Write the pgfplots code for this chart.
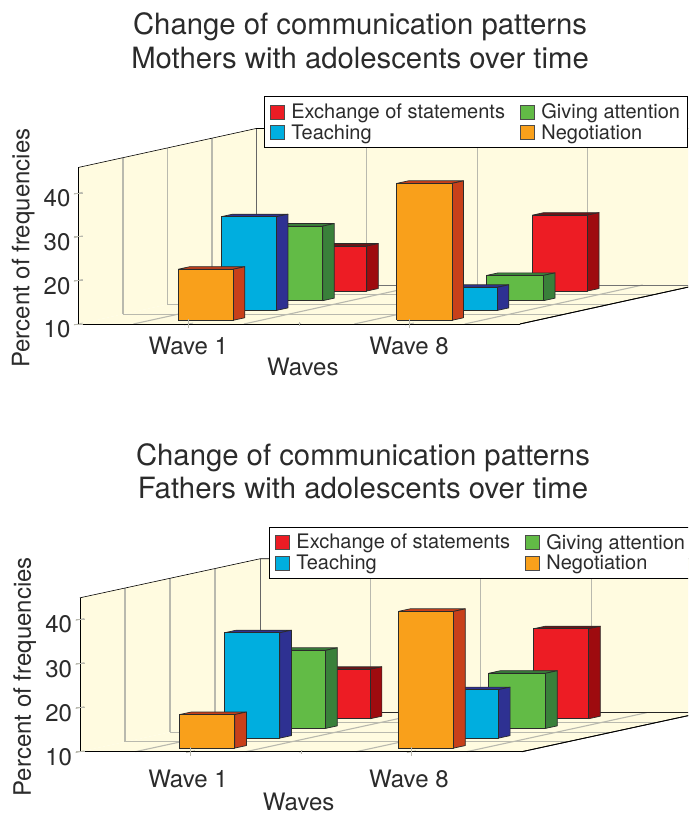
\documentclass[border=0pt]{standalone}
\usepackage{pgfplots}
\usepackage{fontspec}
\setmainfont{TeX Gyre Heros}
\pgfplotsset{compat=1.18}
\definecolor{wall}{HTML}{FFFBE0}
\definecolor{ink}{HTML}{2B2B2B}
\definecolor{gridc}{HTML}{B9B9AE}
\definecolor{redF}{HTML}{ED1C24}\definecolor{redS}{HTML}{9E0B0F}\definecolor{redT}{HTML}{6B1518}
\definecolor{bluF}{HTML}{00AEDF}\definecolor{bluS}{HTML}{2E3192}\definecolor{bluT}{HTML}{2E3192}
\definecolor{greF}{HTML}{62BB46}\definecolor{greS}{HTML}{39803A}\definecolor{greT}{HTML}{39803A}
\definecolor{oraF}{HTML}{F9A01B}\definecolor{oraS}{HTML}{C8401A}\definecolor{oraT}{HTML}{C8401A}
% one bar: x from #1 to #2, depth from #3 to #4, value #5, colours prefix #6
\newcommand{\barbox}[6]{%
 \addplot3[forget plot,fill=#6T,draw=ink,line width=0.7pt,line join=round] coordinates {(#1,#3,#5)(#2,#3,#5)(#2,#4,#5)(#1,#4,#5)(#1,#3,#5)};
 \addplot3[forget plot,fill=#6S,draw=ink,line width=0.7pt,line join=round] coordinates {(#2,#3,10)(#2,#4,10)(#2,#4,#5)(#2,#3,#5)(#2,#3,10)};
 \addplot3[forget plot,fill=#6F,draw=ink,line width=0.7pt,line join=round] coordinates {(#1,#3,10)(#2,#3,10)(#2,#3,#5)(#1,#3,#5)(#1,#3,10)};
}
\newcommand{\backdrop}[2]{%
 \addplot3[forget plot,fill=wall,draw=none] coordinates {(0.5,0,10)(2.5,0,10)(2.5,4,10)(0.5,4,10)(0.5,0,10)};
 \addplot3[forget plot,fill=wall,draw=none] coordinates {(0.5,0,10)(0.5,4,10)(0.5,4,#1)(0.5,0,#1)(0.5,0,10)};
 \addplot3[forget plot,fill=wall,draw=none] coordinates {(0.5,4,10)(2.5,4,10)(2.5,4,#1)(0.5,4,#1)(0.5,4,10)};
 \addplot3[forget plot,gridc,line width=1.5pt] coordinates {(0.5,1,10)(0.5,1,#1)};
 \addplot3[forget plot,gridc,line width=1.5pt] coordinates {(0.5,2,10)(0.5,2,#1)};
 \addplot3[forget plot,gridc,line width=1.5pt] coordinates {(0.5,3,10)(0.5,3,#1)};
 \addplot3[forget plot,gridc,line width=1.1pt] coordinates {(1,4,10)(1,4,#1)};
 \addplot3[forget plot,gridc,line width=1.1pt] coordinates {(1.5,4,10)(1.5,4,#1)};
 \addplot3[forget plot,gridc,line width=1.1pt] coordinates {(2,4,10)(2,4,#1)};
 \addplot3[forget plot,gridc,line width=1.1pt] coordinates {(0.5,1,10)(2.5,1,10)};
 \addplot3[forget plot,gridc,line width=1.1pt] coordinates {(0.5,2,10)(2.5,2,10)};
 \addplot3[forget plot,gridc,line width=1.1pt] coordinates {(0.5,3,10)(2.5,3,10)};
 \addplot3[forget plot,gridc,line width=1.1pt] coordinates {(0.75,0,10)(0.75,4,10)};
 \addplot3[forget plot,gridc,line width=1.1pt] coordinates {(1.25,0,10)(1.25,4,10)};
 \addplot3[forget plot,gridc,line width=1.1pt] coordinates {(1.75,0,10)(1.75,4,10)};
 \addplot3[forget plot,gridc,line width=1.1pt] coordinates {(2.25,0,10)(2.25,4,10)};
 \addplot3[forget plot,#2,line width=0.8pt] coordinates {(0.5,4,10)(2.5,4,10)};
 \addplot3[forget plot,black!60,line width=1pt] coordinates {(0.5,4,10)(0.5,4,#1)};
 \addplot3[forget plot,black,line width=0.6pt] coordinates {(0.5,0,#1)(0.5,4,#1)(2.5,4,#1)};
 \addplot3[forget plot,black,line width=0.8pt] coordinates {(2.5,0,10)(2.5,4,10)};
}
\newcommand{\legendimg}[1]{\addlegendimage{legend image code/.code={\draw[fill=#1,draw=black!70,line width=0.8pt] (0pt,-7pt) rectangle (14pt,7pt);}}}
\pgfplotsset{threedchart/.style={
  anchor=origin, clip=false, axis on top,
  axis lines=left, axis line style={-,black,line width=0.8pt},
  xmin=0.5,xmax=2.5,ymin=0,ymax=4,zmin=10,
  xtick={1,2},xticklabels={Wave 1,Wave 8},minor xtick={1.5},ytick=\empty,ztick={10,20,30,40},
  tick style={gridc,line width=0.8pt},
  xtick align=center,
  major tick length=9pt,minor tick length=4pt,
  /pgf/number format/assume math mode=true,
  tick label style={font=\fontsize{24}{27}\selectfont,text=ink},
  zticklabel style={yshift=-2.5pt},
  label style={font=\fontsize{24}{27}\selectfont,text=ink},
  title style={font=\fontsize{29.3}{33.5}\selectfont,text=ink,align=center,anchor=center},
  legend columns=2,legend cell align=left,
  legend style={anchor=north west,font=\fontsize{20}{24}\selectfont,text=ink,draw=black,fill=white,line width=0.7pt,
    inner xsep=5pt,inner ysep=5pt,row sep=0.5pt,
    /tikz/every odd column/.style={column sep=5pt},
    /tikz/every even column/.style={column sep=12.5pt}},
}}
\begin{document}
\begin{tikzpicture}[x=1pt,y=1pt]
\path[use as bounding box,clip] (0,0) rectangle (688,813);
\begin{axis}[threedchart,at={(78.3pt,489pt)},
  x={(220.8pt,0pt)},y={(44.5pt,9.75pt)},z={(0pt,4.36pt)},zmax=45.9,
  title={Change of communication patterns\\Mothers with adolescents over time},
  title style={at={(axis cs:1.776,0,73.6)}},
  xticklabel style={xshift=14pt,yshift=-9pt},
  xlabel={Waves},xlabel style={at={(axis cs:1.517,0,0.06)},anchor=center,inner sep=0pt},
  zlabel={Percent of frequencies},zlabel style={at={(axis cs:0.25,0,27.4)},anchor=center},
  legend style={at={(axis cs:1.342,0,62.2)}},
]
\backdrop{45.9}{black!55}
\barbox{0.875}{1.125}{3.38}{3.64}{20.3}{red}
\barbox{1.875}{2.125}{3.38}{3.64}{27.4}{red}
\barbox{0.875}{1.125}{2.39}{2.65}{27.1}{gre}
\barbox{1.868}{2.125}{2.39}{2.65}{15.8}{gre}
\barbox{0.867}{1.117}{1.39}{1.65}{31.5}{blu}
\barbox{1.867}{2.117}{1.39}{1.65}{15.3}{blu}
\barbox{0.875}{1.125}{0.38}{0.64}{21.7}{ora}
\barbox{1.866}{2.116}{0.38}{0.64}{41.4}{ora}
\legendimg{redF}\addlegendentry{Exchange of statements}
\legendimg{greF}\addlegendentry{Giving attention}
\legendimg{bluF}\addlegendentry{Teaching}
\legendimg{oraF}\addlegendentry{Negotiation}
\end{axis}
\begin{axis}[threedchart,at={(80pt,61.3pt)},
  x={(220.9pt,0pt)},y={(45pt,9.75pt)},z={(0pt,4.41pt)},zmax=44.9,
  title={Change of communication patterns\\Fathers with adolescents over time},
  title style={at={(axis cs:1.781,0,72.2)}},
  xticklabel style={xshift=12pt,yshift=-14pt},
  xlabel={Waves},xlabel style={at={(axis cs:1.49,0,-1.5)},anchor=center,inner sep=0pt},
  zlabel={Percent of frequencies},zlabel style={at={(axis cs:0.25,0,27.0)},anchor=center},
  legend style={at={(axis cs:1.357,0,61)}},
]
\backdrop{44.9}{black!85}
\barbox{0.875}{1.125}{3.38}{3.64}{21.2}{red}
\barbox{1.864}{2.114}{3.38}{3.64}{30.4}{red}
\barbox{0.875}{1.125}{2.39}{2.65}{27.7}{gre}
\barbox{1.863}{2.121}{2.39}{2.65}{22.5}{gre}
\barbox{0.871}{1.121}{1.39}{1.65}{33.9}{blu}
\barbox{1.861}{2.111}{1.39}{1.65}{21.0}{blu}
\barbox{0.875}{1.125}{0.37}{0.63}{17.6}{ora}
\barbox{1.866}{2.116}{0.37}{0.63}{41.0}{ora}
\legendimg{redF}\addlegendentry{Exchange of statements}
\legendimg{greF}\addlegendentry{Giving attention}
\legendimg{bluF}\addlegendentry{Teaching}
\legendimg{oraF}\addlegendentry{Negotiation}
\end{axis}
\end{tikzpicture}
\end{document}
